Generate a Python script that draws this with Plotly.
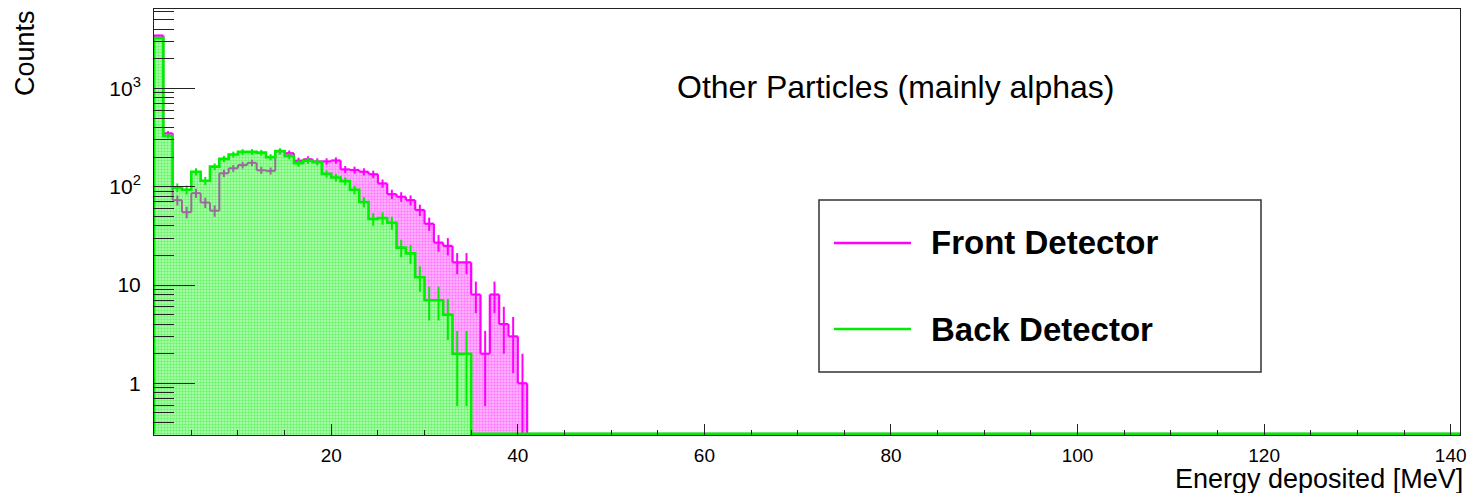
import math
import plotly.graph_objects as go

# ---------------- data ----------------
bin_low_edges = list(range(1, 41))          # MeV, 1 MeV wide bins
bin_width = 1.0
front_counts = [3450, 349, 73, 55, 86, 69, 57, 137, 154, 166,
                175, 147, 145, 228, 219, 184, 190, 181, 181, 185,
                150, 148, 142, 134, 108, 84, 79, 73, 58, 42,
                27, 25, 17, 17, 8, 2, 8, 4, 3, 1]
back_counts = [3250, 328, 98, 93, 142, 115, 160, 192, 213, 226,
               226, 222, 200, 231, 205, 173, 184, 178, 135, 124,
               114, 93, 70, 47, 48, 43, 24, 21, 12, 7,
               7, 5, 2, 2]
series_names = ["Front Detector", "Back Detector"]
x_range = [1, 141]
y_log_range = [-0.526, 3.808]
y_major = [1, 10, 100, 1000]
y_major_text = ["1", "10", "10<sup>2</sup>", "10<sup>3</sup>"]

MAG = "#ff00ff"
MAG_UNDER = "#9a6a9a"     # magenta outline seen through the green fill
GRN = "#00ee00"
FONT = "Liberation Sans, Arial, sans-serif"

floor = 10 ** (y_log_range[0] + 0.012)


def centers(counts):
    return [bin_low_edges[i] + bin_width / 2 for i in range(len(counts))]


def val(counts, i):
    return counts[i] if 0 <= i < len(counts) else floor


def outline(counts):
    xs = [bin_low_edges[0]]
    ys = [floor]
    for i, c in enumerate(counts):
        lo = bin_low_edges[i]
        xs += [lo, lo + bin_width]
        ys += [c, c]
    xs += [xs[-1], x_range[1]]
    ys += [floor, floor]
    return xs, ys


def split_front_outline():
    """Split the front outline into parts above / below the back histogram."""
    vis_x, vis_y, hid_x, hid_y = [], [], [], []

    def seg(x0, y0, x1, y1, hidden):
        if hidden:
            hid_x.extend([x0, x1, None]); hid_y.extend([y0, y1, None])
        else:
            vis_x.extend([x0, x1, None]); vis_y.extend([y0, y1, None])

    n = len(front_counts)
    for i in range(n + 1):
        e = bin_low_edges[0] + i * bin_width
        a, b = val(front_counts, i - 1), val(front_counts, i)
        g = max(val(back_counts, i - 1), val(back_counts, i))
        lo, hi = min(a, b), max(a, b)
        if g > lo:
            seg(e, lo, e, min(hi, g), True)
        if hi > g:
            seg(e, max(lo, g), e, hi, False)
        if i < n:
            f = front_counts[i]
            seg(e, f, e + bin_width, f, f < val(back_counts, i))
    end = bin_low_edges[0] + n * bin_width
    seg(end, floor, x_range[1], floor, True)
    return vis_x, vis_y, hid_x, hid_y


def bars(counts, bg, fg):
    return go.Bar(x=centers(counts), y=counts, width=bin_width,
                  marker=dict(color=bg, line=dict(width=0),
                              pattern=dict(shape=".", bgcolor=bg, fgcolor=fg,
                                           size=3, solidity=0.5)),
                  showlegend=False, hoverinfo="skip")


def errors(xs, counts, color):
    return go.Scatter(x=xs, y=counts, mode="markers",
                      marker=dict(size=1, color=color),
                      error_y=dict(type="data", array=[math.sqrt(c) for c in counts],
                                   visible=True, width=0, thickness=2, color=color),
                      showlegend=False, hoverinfo="skip")


fig = go.Figure()
fig.add_trace(bars(front_counts, "#ffbdff", "#ff3cff"))
fig.add_trace(bars(back_counts, "#b4ffb4", "#22e622"))

vx, vy, hx, hy = split_front_outline()
fig.add_trace(go.Scatter(x=hx, y=hy, mode="lines", line=dict(color=MAG_UNDER, width=2),
                         showlegend=False, hoverinfo="skip"))
fig.add_trace(go.Scatter(x=vx, y=vy, mode="lines", line=dict(color=MAG, width=2.2),
                         showlegend=False, hoverinfo="skip"))

fc = centers(front_counts)
under_idx = [i for i in range(len(front_counts)) if front_counts[i] < val(back_counts, i)]
over_idx = [i for i in range(len(front_counts)) if i not in under_idx]
fig.add_trace(errors([fc[i] for i in under_idx], [front_counts[i] for i in under_idx], MAG_UNDER))
fig.add_trace(errors([fc[i] for i in over_idx], [front_counts[i] for i in over_idx], MAG))

gx, gy = outline(back_counts)
fig.add_trace(go.Scatter(x=gx, y=gy, mode="lines", line=dict(color=GRN, width=2.6),
                         showlegend=False, hoverinfo="skip"))
fig.add_trace(errors(centers(back_counts), back_counts, GRN))

# minor tick positions for the log axis
minor_vals = []
for p in range(-1, 4):
    for m in range(2, 10):
        v = m * 10 ** p
        if y_log_range[0] <= math.log10(v) <= y_log_range[1]:
            minor_vals.append(v)

ML, MR, MT, MB = 154, 8, 9, 58

fig.update_layout(
    autosize=True,
    margin=dict(l=ML, r=MR, t=MT, b=MB, autoexpand=False),
    paper_bgcolor="white", plot_bgcolor="white",
    barmode="overlay", bargap=0,
    font=dict(family=FONT, color="black"),
    xaxis=dict(range=x_range, showline=True, linecolor="#222", linewidth=1, mirror=True,
               showgrid=False, zeroline=False, automargin=False,
               ticklabeloverflow="allow",
               ticks="inside", ticklen=11, tickcolor="#222", tick0=0, dtick=20,
               tickfont=dict(size=19), ticklabelstandoff=3,
               minor=dict(ticks="inside", ticklen=5, dtick=5, tick0=0, tickcolor="#222")),
    yaxis=dict(type="log", range=y_log_range, showline=True, linecolor="#222", linewidth=1,
               mirror=True, showgrid=False, zeroline=False, automargin=False,
               ticks="inside", ticklen=41, tickcolor="#222",
               tickmode="array", tickvals=y_major, ticktext=y_major_text,
               tickfont=dict(size=21), ticklabelstandoff=8,
               minor=dict(ticks="inside", ticklen=20, tickmode="array",
                          tickvals=minor_vals, tickcolor="#222")),
)

# reference layout positions (pixels of the 1468x493 reference)
REF_L, REF_R, REF_T, REF_B = 154, 1460, 9, 435


def px(xpix):
    return (xpix - REF_L) / (REF_R - REF_L)


def py(ypix):
    return (REF_B - ypix) / (REF_B - REF_T)


# titles
fig.add_annotation(text="Counts", xref="paper", yref="paper", x=px(25), y=py(8),
                   xanchor="center", yanchor="top", textangle=-90, showarrow=False,
                   font=dict(size=27, family=FONT, color="black"))
fig.add_annotation(text="Energy deposited [MeV]", xref="paper", yref="paper",
                   x=px(1465), y=py(479), xanchor="right", yanchor="middle", showarrow=False,
                   font=dict(size=27, family=FONT, color="black"))
fig.add_annotation(text="Other Particles (mainly alphas)", xref="paper", yref="paper",
                   x=px(896), y=py(87), xanchor="center", yanchor="middle", showarrow=False,
                   font=dict(size=32, family=FONT, color="black"))

# legend box
fig.add_shape(type="rect", xref="paper", yref="paper", x0=px(819), x1=px(1261),
              y0=py(372), y1=py(200), line=dict(color="#333", width=1.5),
              fillcolor="white", layer="above")
for name, color, ypix in [(series_names[0], MAG, 243), (series_names[1], GRN, 329)]:
    fig.add_shape(type="line", xref="paper", yref="paper", x0=px(834), x1=px(911),
                  y0=py(ypix), y1=py(ypix), line=dict(color=color, width=2.5), layer="above")
    fig.add_annotation(text="<b>%s</b>" % name, xref="paper", yref="paper",
                       x=px(929), y=py(ypix), xanchor="left", yanchor="middle",
                       showarrow=False, font=dict(size=33, family=FONT, color="black"))

fig.write_html("out.html")
